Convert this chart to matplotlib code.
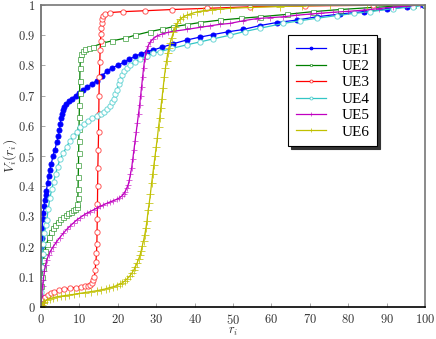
import matplotlib
matplotlib.use("Agg")
import matplotlib.pyplot as plt
from matplotlib.colors import to_rgba
from matplotlib.ticker import FuncFormatter

plt.rcParams['mathtext.fontset'] = 'cm'

# ---------------- data ----------------
ue1_x = [0, 0.1, 0.2, 0.3, 0.45, 0.6, 0.8, 1.0, 1.2, 1.4, 1.7, 2.0, 2.3, 2.7, 3.1, 3.6, 4.1, 4.5, 4.8, 5.0,
         5.2, 5.4, 5.7, 6.1, 6.6, 7.3, 8.0, 9.0, 10.0, 11.0, 12.0, 13.2, 14.5, 15.8, 17.1, 18.5, 20.0, 21.5,
         23.0, 24.5, 26.0, 27.5, 29.2, 31.5, 34.5, 37.9, 41.5, 44.8, 48.6, 52.7, 57, 61.4, 66.6, 71.8, 77.9,
         84, 90, 95.2, 99.5]
ue1_y = [0.17, 0.20, 0.23, 0.26, 0.29, 0.31, 0.335, 0.354, 0.37, 0.385, 0.41, 0.435, 0.455, 0.475, 0.50,
         0.52, 0.545, 0.565, 0.585, 0.605, 0.625, 0.64, 0.652, 0.662, 0.672, 0.682, 0.69, 0.70, 0.71, 0.72,
         0.728, 0.738, 0.75, 0.765, 0.78, 0.792, 0.80, 0.81, 0.82, 0.83, 0.838, 0.845, 0.851, 0.86, 0.872,
         0.884, 0.894, 0.902, 0.911, 0.919, 0.932, 0.942, 0.95, 0.961, 0.97, 0.978, 0.986, 0.994, 1.0]

ue2_x = [0, 0.1, 0.2, 0.4, 0.6, 1.0, 1.5, 2.0, 2.5, 3.0, 3.6, 4.3, 5.0, 5.7, 6.4, 7.1, 7.8, 8.4, 8.9, 9.3,
         9.5, 9.6, 9.65, 9.7, 9.75, 9.8, 9.85, 9.9, 9.95, 10.0, 10.05, 10.1, 10.15, 10.25, 10.5, 11.0, 11.5,
         12.5, 13.6, 15.8, 18.4, 21.9, 24.5, 28.4, 31.5, 34.4, 38, 41.4, 46.6, 52, 57, 64, 70.8, 77.9, 86.5,
         97, 100]
ue2_y = [0.03, 0.07, 0.10, 0.13, 0.156, 0.185, 0.21, 0.232, 0.248, 0.262, 0.272, 0.282, 0.29, 0.298, 0.305,
         0.31, 0.316, 0.321, 0.326, 0.331, 0.34, 0.36, 0.39, 0.43, 0.47, 0.51, 0.55, 0.59, 0.63, 0.67, 0.71,
         0.75, 0.79, 0.82, 0.838, 0.848, 0.853, 0.858, 0.862, 0.873, 0.881, 0.89, 0.90, 0.912, 0.92, 0.928,
         0.935, 0.942, 0.95, 0.956, 0.961, 0.969, 0.978, 0.985, 0.992, 0.999, 1.0]

ue3_x = [0, 0.2, 0.5, 1, 1.7, 2.5, 3.5, 4.7, 6, 7.5, 9, 10.5, 11.5, 12.2, 12.8, 13.3, 13.6, 13.9, 14.1,
         14.3, 14.45, 14.55, 14.6, 14.65, 14.7, 14.75, 14.8, 14.9, 15.0, 15.05, 15.1, 15.2, 15.3, 15.4, 15.5,
         15.6, 15.7, 15.8, 15.9, 16.1, 16.6, 18.0, 21.4, 27.1, 34, 43.2, 54.4, 68.8, 86.5, 100]
ue3_y = [0.005, 0.015, 0.025, 0.033, 0.04, 0.045, 0.05, 0.055, 0.058, 0.062, 0.064, 0.066, 0.068, 0.07,
         0.073, 0.08, 0.089, 0.10, 0.122, 0.15, 0.178, 0.21, 0.25, 0.29, 0.34, 0.40, 0.46, 0.52, 0.58, 0.64,
         0.70, 0.76, 0.81, 0.85, 0.88, 0.905, 0.925, 0.94, 0.952, 0.962, 0.97, 0.975, 0.978, 0.981, 0.985,
         0.989, 0.994, 0.997, 0.999, 1.0]

ue4_x = [0, 0.1, 0.2, 0.4, 0.6, 0.9, 1.2, 1.5, 1.9, 2.3, 2.8, 3.3, 3.8, 4.3, 5, 5.8, 6.7, 7.5, 8.4, 9.3,
         10.2, 11.2, 12.2, 13.3, 14.5, 15.5, 16.4, 17.2, 17.9, 18.5, 19.0, 19.4, 19.8, 20.2, 20.6, 21.1,
         21.7, 22.3, 23.2, 24.4, 25.8, 27.5, 29.2, 31, 34, 37.9, 41.5, 44.9, 49.2, 53, 57, 63.1, 67.5, 71.8,
         77, 81.5, 85.7, 91.7, 97, 100]
ue4_y = [0.05, 0.09, 0.133, 0.175, 0.21, 0.245, 0.27, 0.288, 0.325, 0.36, 0.39, 0.415, 0.44, 0.465, 0.49,
         0.51, 0.531, 0.55, 0.565, 0.58, 0.595, 0.607, 0.617, 0.625, 0.632, 0.638, 0.645, 0.655, 0.665,
         0.678, 0.69, 0.705, 0.72, 0.737, 0.752, 0.768, 0.782, 0.792, 0.802, 0.812, 0.82, 0.83, 0.84, 0.846,
         0.856, 0.868, 0.878, 0.888, 0.9, 0.912, 0.923, 0.939, 0.948, 0.956, 0.965, 0.972, 0.978, 0.988,
         0.994, 1.0]

ue5_x = [0, 0.1, 0.2, 0.4, 0.6, 0.9, 1.2, 1.5, 2, 2.5, 3.2, 4, 4.9, 5.8, 6.7, 7.6, 8.5, 9.3, 10.2, 11.1, 12,
         12.8, 13.7, 14.5, 15.4, 16.2, 17.1, 18, 18.8, 19.7, 20.4, 21, 21.5, 21.9, 22.3, 22.7, 23.0, 23.3,
         23.6, 23.9, 24.2, 24.5, 24.8, 25.1, 25.4, 25.7, 25.95, 26.2, 26.45, 26.7, 27.0, 27.4, 27.9, 28.5,
         29.2, 30.1, 31.5, 33, 34.5, 37.9, 41.4, 44, 46.6, 49.2, 52.7, 56.2, 59.6, 63.1, 66.5, 70, 73, 76.1,
         80, 84, 88, 91.7, 95, 98.7]
ue5_y = [0.0, 0.02, 0.04, 0.07, 0.09, 0.12, 0.14, 0.156, 0.172, 0.186, 0.2, 0.215, 0.23, 0.244, 0.257,
         0.268, 0.279, 0.288, 0.296, 0.304, 0.311, 0.316, 0.322, 0.327, 0.333, 0.338, 0.343, 0.348, 0.352,
         0.356, 0.361, 0.367, 0.374, 0.382, 0.393, 0.405, 0.42, 0.44, 0.46, 0.49, 0.52, 0.55, 0.58, 0.61,
         0.64, 0.67, 0.70, 0.73, 0.76, 0.79, 0.82, 0.845, 0.865, 0.878, 0.888, 0.897, 0.904, 0.909, 0.913,
         0.919, 0.926, 0.931, 0.936, 0.939, 0.948, 0.955, 0.958, 0.961, 0.966, 0.97, 0.973, 0.976, 0.979,
         0.983, 0.988, 0.993, 0.996, 1.0]

ue6_x = [0, 0.2, 0.5, 0.9, 1.5, 2.3, 3.2, 4.2, 5.2, 6.3, 7.4, 8.6, 10, 11.5, 13, 14.5, 15.7, 16.8, 17.8,
         18.8, 19.7, 20.5, 21.2, 21.9, 22.5, 23.1, 23.6, 24.1, 24.6, 25.0, 25.4, 25.8, 26.1, 26.4, 26.7,
         27.0, 27.3, 27.6, 27.9, 28.2, 28.5, 28.8, 29.1, 29.4, 29.7, 30.0, 30.3, 30.6, 30.9, 31.2, 31.5,
         31.8, 32.1, 32.4, 32.7, 33.0, 33.3, 33.6, 34, 34.5, 35.0, 35.5, 36.2, 37, 37.9, 39, 40.5, 42.3,
         44.5, 46.6, 49.2, 55, 62.2, 68, 75.3, 85, 100]
ue6_y = [0.0, 0.007, 0.012, 0.017, 0.023, 0.028, 0.031, 0.034, 0.036, 0.038, 0.04, 0.042, 0.045, 0.048,
         0.051, 0.054, 0.057, 0.06, 0.064, 0.067, 0.071, 0.075, 0.08, 0.087, 0.094, 0.102, 0.111, 0.121,
         0.133, 0.145, 0.158, 0.172, 0.187, 0.203, 0.22, 0.238, 0.26, 0.285, 0.32, 0.345, 0.375, 0.41, 0.44,
         0.47, 0.5, 0.53, 0.56, 0.595, 0.625, 0.66, 0.69, 0.725, 0.76, 0.79, 0.815, 0.84, 0.858, 0.873,
         0.89, 0.91, 0.928, 0.94, 0.952, 0.96, 0.966, 0.971, 0.977, 0.981, 0.984, 0.986, 0.989, 0.992,
         0.995, 0.997, 0.999, 1.0, 1.0]

labels = ["UE1", "UE2", "UE3", "UE4", "UE5", "UE6"]
x_ticks = [0, 10, 20, 30, 40, 50, 60, 70, 80, 90, 100]
y_ticks = [0, 0.1, 0.2, 0.3, 0.4, 0.5, 0.6, 0.7, 0.8, 0.9, 1]

series = [(ue1_x, ue1_y), (ue2_x, ue2_y), (ue3_x, ue3_y),
          (ue4_x, ue4_y), (ue5_x, ue5_y), (ue6_x, ue6_y)]

colors = ['#0000ff', '#008000', '#ff0000', '#33c6c6', '#c000c0', '#c0c000']
markers = ['o', 's', 'o', 'o', '+', '+']
filled = [True, False, False, False, True, True]
msizes = [3.6, 3.6, 3.8, 3.8, 5.0, 6.0]
mark_alpha = [1.0, 0.55, 0.65, 0.7, 0.6, 0.75]

# ---------------- figure ----------------
fig = plt.figure(figsize=(4.36, 3.39), dpi=100)
ax = fig.add_axes([41 / 436, 32 / 339, 384 / 436, 302 / 339])

for (xs, ys), lab, c, m, f, ms, ma in zip(series, labels, colors, markers, filled, msizes, mark_alpha):
    ec = to_rgba(c, ma)
    ax.plot(xs, ys, color=c, lw=0.9, marker=m, markersize=ms,
            markerfacecolor=(c if f else 'white'), markeredgecolor=ec,
            markeredgewidth=0.7, label=lab)

ax.set_xlim(0, 100)
ax.set_ylim(0, 1)
ax.set_xticks(x_ticks)
ax.set_yticks(y_ticks)


def fmt(v, pos):
    return r'$%s$' % ('%g' % v)


ax.xaxis.set_major_formatter(FuncFormatter(fmt))
ax.yaxis.set_major_formatter(FuncFormatter(fmt))
ax.tick_params(direction='in', length=3, width=0.6, color='#999999',
               labelsize=9, labelcolor='#333333', pad=4)
ax.tick_params(axis='x', pad=4)

for side in ['top', 'right']:
    ax.spines[side].set_color('#777777')
    ax.spines[side].set_linewidth(1.2)
ax.spines['left'].set_color('#666666')
ax.spines['left'].set_linewidth(1.2)
ax.spines['bottom'].set_color('black')
ax.spines['bottom'].set_linewidth(1.2)

ax.set_xlabel(r'$r_i$', fontsize=9, labelpad=-1, color='#333333')
ax.set_ylabel(r'$V_i(r_i)$', fontsize=10, labelpad=-1, color='#333333')

leg = ax.legend(loc='upper left', bbox_to_anchor=(0.643, 0.90),
                prop={'family': 'Liberation Serif', 'size': 11},
                frameon=True, fancybox=False, edgecolor='black',
                shadow={'color': '#333333', 'alpha': 1.0},
                handlelength=2.0, handletextpad=1.0, borderpad=0.5,
                labelspacing=0.18, markerscale=0.55, borderaxespad=0)
leg.get_frame().set_linewidth(0.8)

fig.savefig('out.png', dpi=100)
